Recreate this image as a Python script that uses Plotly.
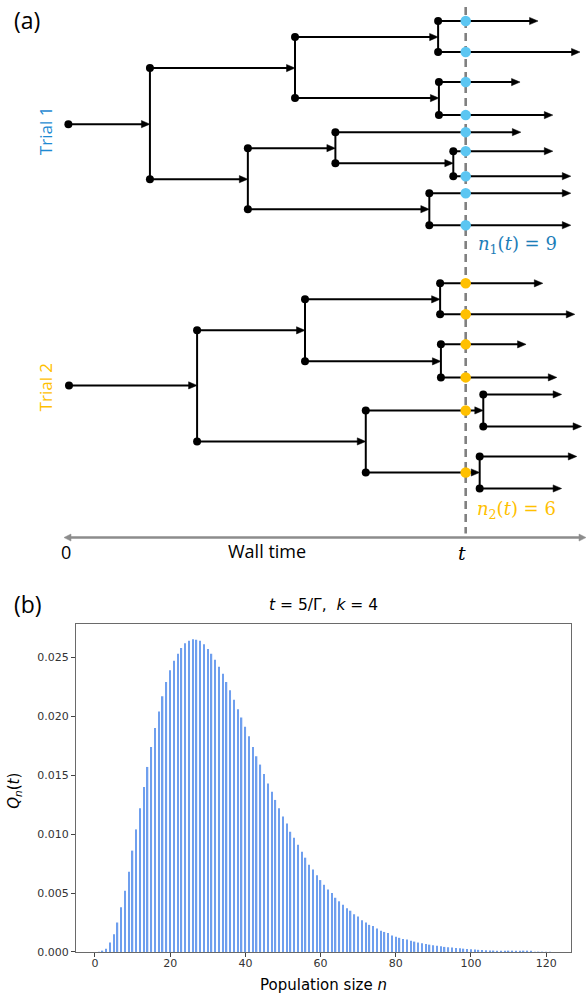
import plotly.graph_objects as go
from collections import defaultdict

W, H = 587, 994
H_EFF = 986  # effective rendered height of the plotting paper

# ---------------- Panel (a) data: branching trees ----------------
# wall time in units where the observation time t = 10; lanes = vertical lineage positions
T_OBS = 10.0
# (birth time, division/end time, lane)
trial1_branches = [
    (0.06, 2.10, 124),
    (2.10, 5.73, 68), (2.10, 4.55, 179),
    (5.73, 9.31, 37), (5.73, 9.33, 98),
    (9.31, 11.81, 21), (9.31, 12.86, 52),
    (9.33, 11.36, 82), (9.33, 12.18, 115),
    (4.55, 6.74, 148), (4.55, 9.09, 209),
    (6.74, 11.38, 132), (6.74, 9.69, 163),
    (9.69, 12.18, 151), (9.69, 12.63, 176),
    (9.09, 12.63, 193), (9.09, 12.63, 225),
]
trial2_branches = [
    (0.075, 3.28, 385),
    (3.28, 5.98, 330), (3.28, 7.50, 441),
    (5.98, 9.36, 299), (5.98, 9.38, 361),
    (9.36, 11.93, 283), (9.36, 12.73, 314),
    (9.38, 11.51, 344), (9.38, 12.28, 377),
    (7.50, 10.44, 410), (7.50, 10.35, 472),
    (10.44, 12.40, 394), (10.44, 12.90, 426),
    (10.35, 12.78, 456), (10.35, 12.40, 488),
]
trial_labels = ["Trial 1", "Trial 2"]
wall_time_span = (-0.05, 13.01)

# ---------------- Panel (b) data ----------------
n_values = list(range(1, 122))
Q_values = [
    0.00001, 0.00006, 0.00028, 0.0008, 0.0015, 0.0025, 0.0038, 0.0052, 0.0068, 0.0086,
    0.0104, 0.0122, 0.0140, 0.0157, 0.0174, 0.0190, 0.0204, 0.0217, 0.0229, 0.0239,
    0.0247, 0.0253, 0.0258, 0.0262, 0.0264, 0.02653, 0.0265, 0.0264, 0.0261, 0.0257,
    0.0253, 0.0248, 0.0242, 0.0236, 0.0229, 0.0222, 0.0214, 0.0206, 0.0199, 0.0191,
    0.0183, 0.0174, 0.0166, 0.0159, 0.0151, 0.0143, 0.0136, 0.0129, 0.0122, 0.0115,
    0.0109, 0.0102, 0.0097, 0.0091, 0.0085, 0.0080, 0.0074, 0.0070, 0.0065, 0.0061,
    0.0057, 0.0053, 0.0050, 0.0046, 0.0043, 0.0040, 0.0037, 0.0035, 0.0032, 0.0030,
    0.0027, 0.0025, 0.0023, 0.0022, 0.0020, 0.0018, 0.0017, 0.0016, 0.0014, 0.0013,
    0.0012, 0.0011, 0.00105, 0.00096, 0.00088, 0.00080, 0.00074, 0.00068, 0.00062, 0.00057,
    0.00052, 0.00048, 0.00043, 0.00040, 0.00037, 0.00034, 0.00031, 0.00028, 0.00025, 0.00023,
    0.00020, 0.00018, 0.00016, 0.00015, 0.00013, 0.00012, 0.00010, 0.00009, 0.00008, 0.00007,
    0.00006, 0.00005, 0.000045, 0.00004, 0.000035, 0.00003, 0.000025, 0.000022, 0.00002, 0.000017,
    0.000015,
]
x_ticks = [0, 20, 40, 60, 80, 100, 120]
y_ticks = [0.000, 0.005, 0.010, 0.015, 0.020, 0.025]

# ---------------- styling constants ----------------
X_RANGE_A = [-1.651, 13.035]
PX_PER_T = W / (X_RANGE_A[1] - X_RANGE_A[0])
HEAD_L = 8.5 / PX_PER_T
HEAD_W = 3.6
BLUE_DOT = "#5CC6F2"
BLUE_TXT = "#1F8AD2"
BLUE_N = "#1B7DB8"
YELLOW = "#FFC000"
GRAY = "#8C8C8C"

fig = go.Figure()


def tree_traces(branches):
    lx, ly = [], []
    hx, hy = [], []
    dx, dy = [], []
    for (s, e, lane) in branches:
        lx += [s, e - HEAD_L * 0.5, None]
        ly += [lane, lane, None]
        hx += [e - HEAD_L, e, e - HEAD_L, e - HEAD_L, None]
        hy += [lane - HEAD_W, lane, lane + HEAD_W, lane - HEAD_W, None]
        dx.append(s)
        dy.append(lane)
    groups = defaultdict(list)
    for (s, e, lane) in branches[1:]:
        groups[s].append(lane)
    for s, lanes in groups.items():
        lx += [s, s, None]
        ly += [min(lanes), max(lanes), None]
    obs = [lane for (s, e, lane) in branches if s < T_OBS <= e]
    fig.add_trace(go.Scatter(x=lx, y=ly, mode="lines", line=dict(color="black", width=2),
                             hoverinfo="skip"))
    fig.add_trace(go.Scatter(x=hx, y=hy, mode="lines", fill="toself", fillcolor="black",
                             line=dict(color="black", width=0.5), hoverinfo="skip"))
    fig.add_trace(go.Scatter(x=dx, y=dy, mode="markers",
                             marker=dict(color="black", size=8), hoverinfo="skip"))
    return obs


# dashed observation line
fig.add_trace(go.Scatter(x=[T_OBS, T_OBS], y=[7, 533], mode="lines",
                         line=dict(color="#808080", width=2.6, dash="8px,5px"), hoverinfo="skip"))

obs1 = tree_traces(trial1_branches)
obs2 = tree_traces(trial2_branches)
fig.add_trace(go.Scatter(x=[T_OBS] * len(obs1), y=obs1, mode="markers",
                         marker=dict(color=BLUE_DOT, size=10.5), hoverinfo="skip"))
fig.add_trace(go.Scatter(x=[T_OBS] * len(obs2), y=obs2, mode="markers",
                         marker=dict(color=YELLOW, size=10.5), hoverinfo="skip"))

# wall time axis (double arrow)
a0, a1 = wall_time_span
AXY = 537
fig.add_trace(go.Scatter(x=[a0 + HEAD_L * 0.5, a1 - HEAD_L * 0.5], y=[AXY, AXY], mode="lines",
                         line=dict(color=GRAY, width=2.4), hoverinfo="skip"))
hl2 = 7 / PX_PER_T
fig.add_trace(go.Scatter(
    x=[a1 - hl2, a1, a1 - hl2, a1 - hl2, None, a0 + hl2, a0, a0 + hl2, a0 + hl2],
    y=[AXY - 3.5, AXY, AXY + 3.5, AXY - 3.5, None, AXY - 3.5, AXY, AXY + 3.5, AXY - 3.5],
    mode="lines", fill="toself", fillcolor=GRAY, line=dict(color=GRAY, width=0.5),
    hoverinfo="skip"))

# ---------------- Panel (b) bars ----------------
fig.add_trace(go.Bar(x=n_values, y=Q_values, width=0.36,
                     marker=dict(color="#6f9fee", line=dict(width=0)),
                     xaxis="x2", yaxis="y2", hoverinfo="skip"))


def px2t(px):
    return X_RANGE_A[0] + px / PX_PER_T


def paper(px, py):
    return px / W, 1 - py / H_EFF


ann = []
SANS = "Open Sans"


def add_text(x, y, text, font, xref="x", yref="y", angle=0, xanchor="center"):
    ann.append(dict(x=x, y=y, xref=xref, yref=yref, text=text, showarrow=False,
                    textangle=angle, xanchor=xanchor, yanchor="middle", font=font))


# panel (a) texts
add_text(px2t(27), 20, "(a)", dict(family=SANS, size=23, color="black"))
add_text(px2t(45), 131, trial_labels[0], dict(family=SANS, size=17, color=BLUE_TXT), angle=-90)
add_text(px2t(45), 387, trial_labels[1], dict(family=SANS, size=17, color=YELLOW), angle=-90)
add_text(px2t(476), 245, "<i>n</i><sub>1</sub>(<i>t</i>) = %d" % len(obs1),
         dict(family="DejaVu Serif", size=18, color=BLUE_N), xanchor="left")
add_text(px2t(475), 509, "<i>n</i><sub>2</sub>(<i>t</i>) = %d" % len(obs2),
         dict(family="DejaVu Serif", size=18, color=YELLOW), xanchor="left")
add_text(0, 551, "0", dict(family=SANS, size=18, color="black"))
add_text(px2t(267), 550, "Wall time", dict(family=SANS, size=18, color="black"))
add_text(px2t(462), 552, "<i>t</i>", dict(family="DejaVu Serif", size=19, color="black"))

# panel (b) texts
x_, y_ = paper(28, 603)
add_text(x_, y_, "(b)", dict(family=SANS, size=23, color="black"), "paper", "paper")
x_, y_ = paper(323.5, 604)
add_text(x_, y_, "<i>t</i> = 5/Γ,  <i>k</i> = 4", dict(family="DejaVu Sans", size=15.5, color="black"),
         "paper", "paper")
x_, y_ = paper(15, 790)
add_text(x_, y_, "<i>Q<sub>n</sub></i>(<i>t</i>)", dict(family="DejaVu Sans", size=15, color="black"),
         "paper", "paper", angle=-90)
x_, y_ = paper(323.5, 984)
add_text(x_, y_, "Population size <i>n</i>", dict(family="DejaVu Sans", size=15, color="black"),
         "paper", "paper")

tickfont = dict(family="DejaVu Sans", size=11, color="#333333")
fig.update_layout(
    width=W, height=H, margin=dict(l=0, r=0, t=0, b=0), showlegend=False,
    paper_bgcolor="white", plot_bgcolor="rgba(0,0,0,0)",
    annotations=ann,
    xaxis=dict(domain=[0, 1], range=X_RANGE_A, visible=False),
    yaxis=dict(domain=[0, 1], range=[H_EFF, 0], visible=False),
    xaxis2=dict(domain=[76 / W, 571 / W], anchor="y2", range=[-5.05, 126.6],
                tickvals=x_ticks, ticks="outside", ticklen=4, tickwidth=1, tickcolor="#444",
                ticklabelstandoff=-3,
                showline=True, mirror=True, linecolor="#6a6a6a", linewidth=1.3,
                showgrid=False, zeroline=False, tickfont=tickfont),
    yaxis2=dict(domain=[1 - 951 / H_EFF, 1 - 623 / H_EFF], anchor="x2", range=[0, 0.02786],
                tickvals=y_ticks, tickformat=".3f", ticks="outside", ticklen=4, tickwidth=1,
                tickcolor="#444", showline=True, mirror=True, linecolor="#6a6a6a", linewidth=1.3,
                showgrid=False, zeroline=False, tickfont=tickfont),
)

fig.write_html("out.html")
